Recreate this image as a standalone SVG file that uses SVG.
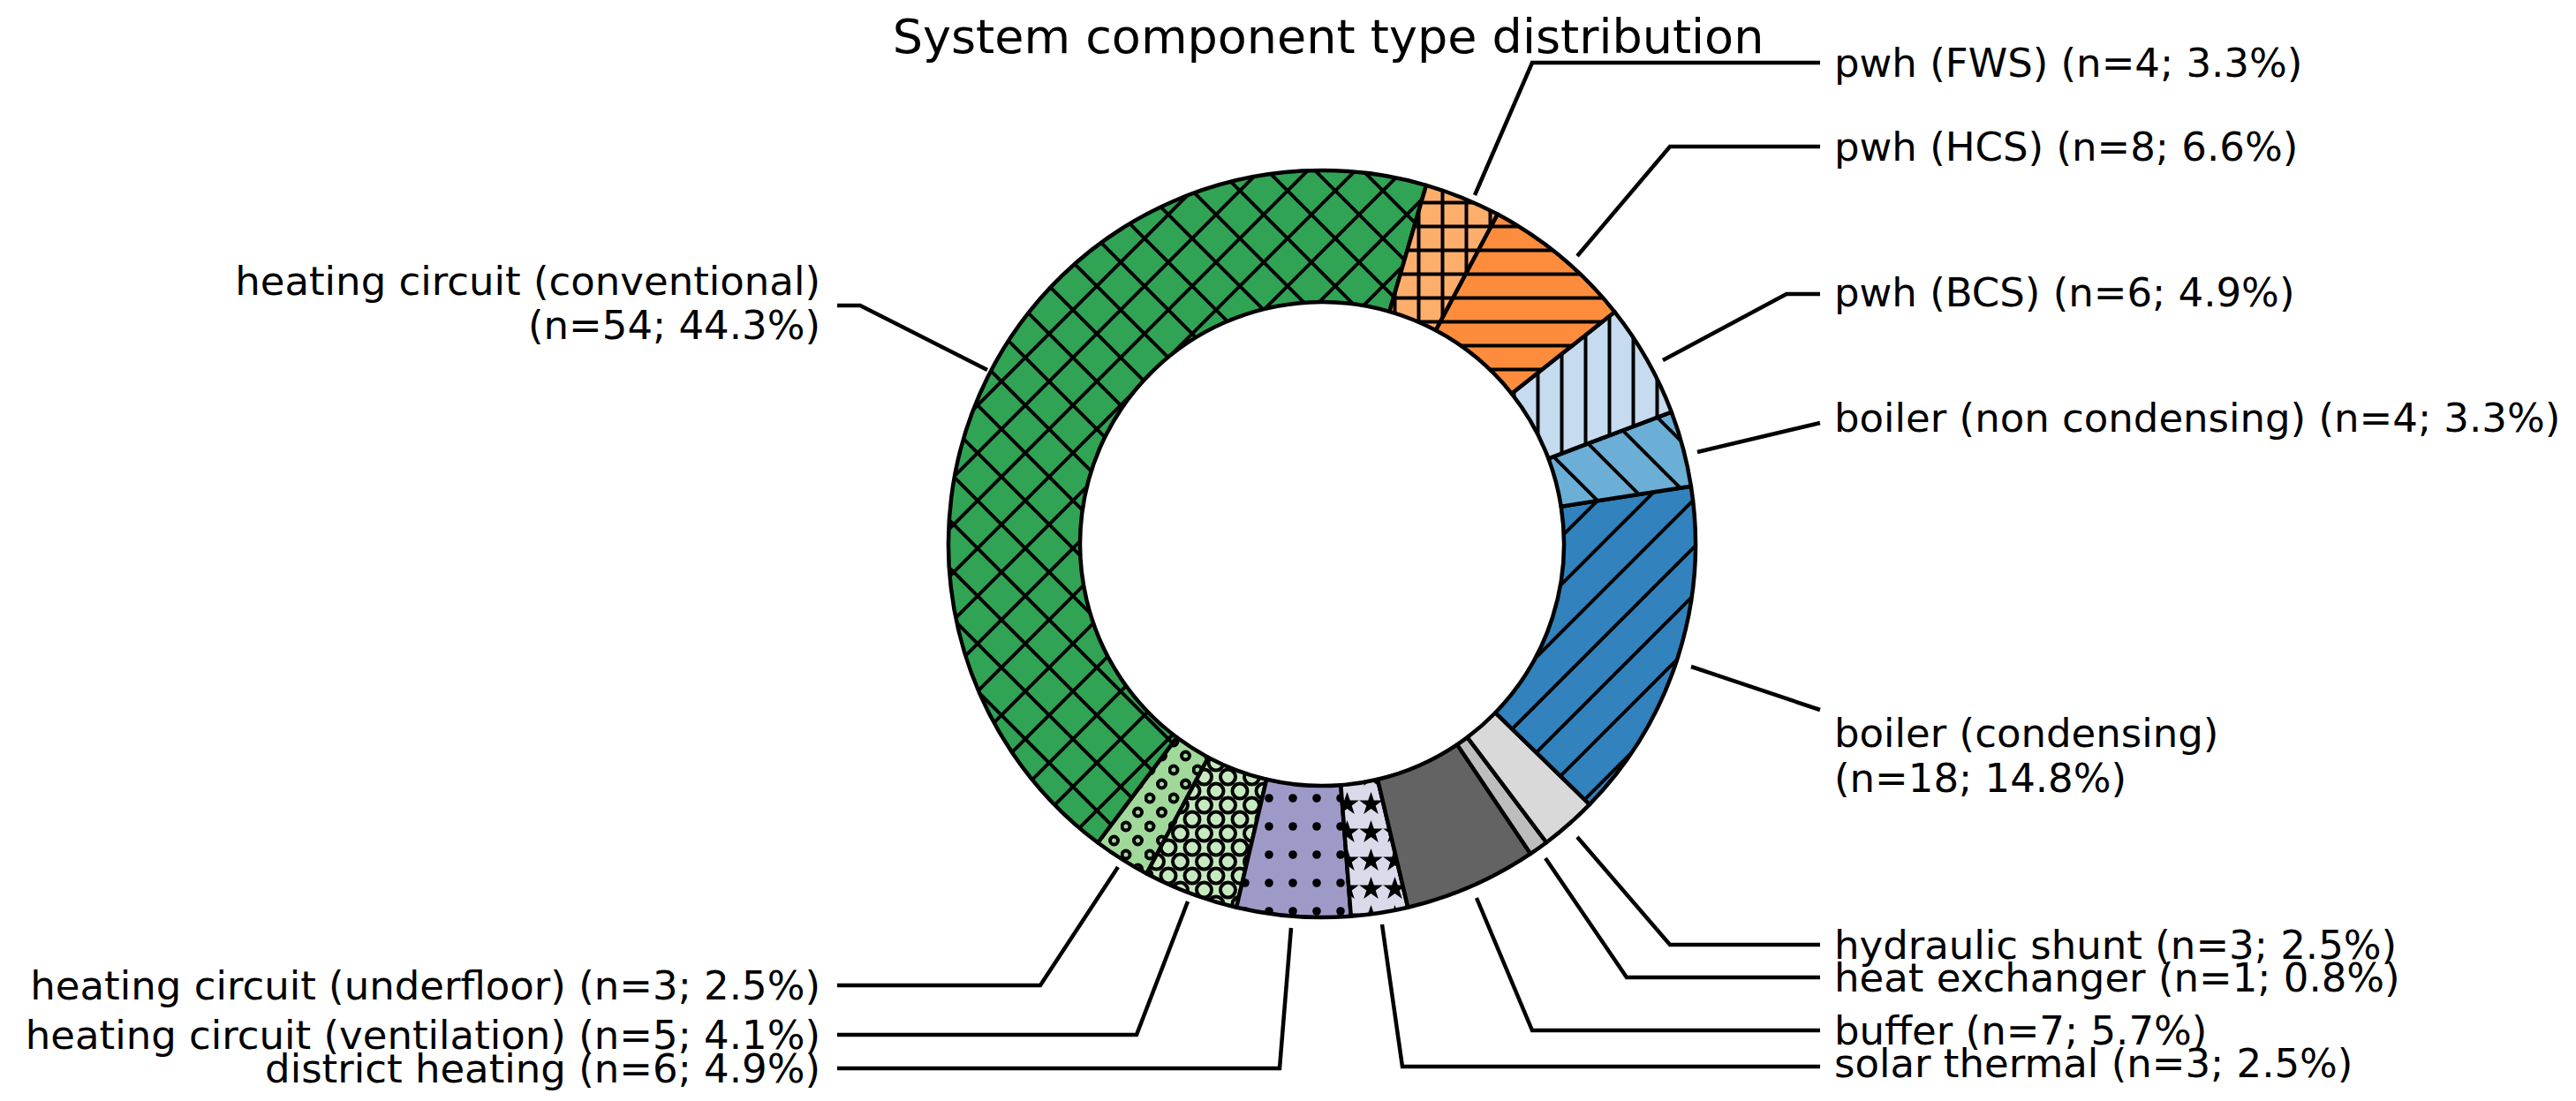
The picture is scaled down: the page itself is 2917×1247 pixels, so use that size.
<svg xmlns="http://www.w3.org/2000/svg" width="2917" height="1247" viewBox="0 0 2917 1247">
<style>
text{font-family:"DejaVu Sans","Liberation Sans",sans-serif;font-size:45px;fill:#000;dominant-baseline:central}
.t{font-size:54px;text-anchor:middle}
.r{text-anchor:end}
.w{stroke:#000;stroke-width:4.5;stroke-linejoin:round}
.c path{stroke:#000;stroke-width:4.5;fill:none}
.h{stroke:#000;stroke-width:4}
</style>
<defs>
<pattern id="px" patternUnits="userSpaceOnUse" width="54" height="54"><rect width="54" height="54" fill="#31a354"/><path class="h" d="M-5,-5L59,59M-5,59L59,-5"/></pattern>
<pattern id="po" patternUnits="userSpaceOnUse" width="27" height="32"><rect width="27" height="32" fill="#a1d99b"/><g fill="none" class="h"><circle cx="6" cy="8" r="4.5"/><circle cx="19.5" cy="24" r="4.5"/></g></pattern>
<pattern id="pO" patternUnits="userSpaceOnUse" width="27" height="32"><rect width="27" height="32" fill="#c7e9c0"/><g fill="none" class="h"><circle cx="13.5" cy="16" r="8.5"/><circle cx="0" cy="0" r="8.5"/><circle cx="27" cy="0" r="8.5"/><circle cx="0" cy="32" r="8.5"/><circle cx="27" cy="32" r="8.5"/></g></pattern>
<pattern id="pd" patternUnits="userSpaceOnUse" width="27" height="32"><rect width="27" height="32" fill="#9e9ac8"/><circle cx="6" cy="8" r="4.8"/></pattern>
<pattern id="ps" patternUnits="userSpaceOnUse" width="27" height="32"><rect width="27" height="32" fill="#dadaeb"/><path d="M13.5,1l3.3,9.5h10l-8.1,5.9l3.1,9.6l-8.3,-6l-8.3,6l3.1,-9.6l-8.1,-5.9h10z" fill="#000"/></pattern>
<pattern id="pf" patternUnits="userSpaceOnUse" width="54" height="54"><rect width="54" height="54" fill="#3182bd"/><path class="h" d="M-5,59L59,-5M-5,5L5,-5M49,59L59,49"/></pattern>
<pattern id="pb" patternUnits="userSpaceOnUse" width="54" height="54"><rect width="54" height="54" fill="#6baed6"/><path class="h" d="M-5,-5L59,59M-5,49L5,59M49,-5L59,5"/></pattern>
<pattern id="pv" patternUnits="userSpaceOnUse" width="27" height="27"><rect width="27" height="27" fill="#c6dbef"/><path class="h" d="M13.5,-1V28"/></pattern>
<pattern id="ph" patternUnits="userSpaceOnUse" width="27" height="27"><rect width="27" height="27" fill="#fd8d3c"/><path class="h" d="M-1,13.5H28"/></pattern>
<pattern id="pp" patternUnits="userSpaceOnUse" width="27" height="27"><rect width="27" height="27" fill="#fdae6b"/><path class="h" d="M-1,13.5H28M13.5,-1V28"/></pattern>
</defs>
<text class="t" x="1504" y="41">System component type distribution</text>
<g id="w-conv"><path class="w" fill="url(#px)" d="M1615.0,209.8A423,423 0 0 0 1243.3,954.5L1332.7,835.3A274,274 0 0 1 1573.4,352.9Z"/></g>
<g id="w-underfloor"><path class="w" fill="url(#po)" d="M1243.3,954.5A423,423 0 0 0 1298.4,989.5L1368.3,857.9A274,274 0 0 1 1332.7,835.3Z"/></g>
<g id="w-vent"><path class="w" fill="url(#pO)" d="M1298.4,989.5A423,423 0 0 0 1400.1,1027.7L1434.2,882.7A274,274 0 0 1 1368.3,857.9Z"/></g>
<g id="w-district"><path class="w" fill="url(#pd)" d="M1400.1,1027.7A423,423 0 0 0 1529.8,1037.7L1518.3,889.2A274,274 0 0 1 1434.2,882.7Z"/></g>
<g id="w-solar"><path class="w" fill="url(#ps)" d="M1529.8,1037.7A423,423 0 0 0 1594.3,1027.7L1560.0,882.7A274,274 0 0 1 1518.3,889.2Z"/></g>
<g id="w-buffer"><path class="w" fill="#636363" d="M1594.3,1027.7A423,423 0 0 0 1733.2,966.9L1650.0,843.3A274,274 0 0 1 1560.0,882.7Z"/></g>
<g id="w-hx"><path class="w" fill="#bdbdbd" d="M1733.2,966.9A423,423 0 0 0 1751.1,954.2L1661.6,835.1A274,274 0 0 1 1650.0,843.3Z"/></g>
<g id="w-shunt"><path class="w" fill="#d9d9d9" d="M1751.1,954.2A423,423 0 0 0 1800.0,911.1L1693.3,807.2A274,274 0 0 1 1661.6,835.1Z"/></g>
<g id="w-cond"><path class="w" fill="url(#pf)" d="M1800.0,911.1A423,423 0 0 0 1914.9,550.8L1767.7,573.7A274,274 0 0 1 1693.3,807.2Z"/></g>
<g id="w-noncond"><path class="w" fill="url(#pb)" d="M1914.9,550.8A423,423 0 0 0 1892.8,466.7L1753.4,519.3A274,274 0 0 1 1767.7,573.7Z"/></g>
<g id="w-bcs"><path class="w" fill="url(#pv)" d="M1892.8,466.7A423,423 0 0 0 1828.5,353.3L1711.8,445.8A274,274 0 0 1 1753.4,519.3Z"/></g>
<g id="w-hcs"><path class="w" fill="url(#ph)" d="M1828.5,353.3A423,423 0 0 0 1695.7,242.6L1625.7,374.1A274,274 0 0 1 1711.8,445.8Z"/></g>
<g id="w-fws"><path class="w" fill="url(#pp)" d="M1695.7,242.6A423,423 0 0 0 1615.0,209.8L1573.4,352.9A274,274 0 0 1 1625.7,374.1Z"/></g>
<g id="connectors" class="c">
<path d="M1670,221L1735,71H2061"/>
<path d="M1786,290L1891,166H2061"/>
<path d="M1883,408L2023,333H2061"/>
<path d="M1922,512L2061,479"/>
<path d="M1915,755L2061,804"/>
<path d="M1786,948L1891,1070H2061"/>
<path d="M1750,972L1842,1107H2061"/>
<path d="M1672,1017L1735,1167H2061"/>
<path d="M1565,1047L1588,1208H2061"/>
<path d="M1462,1051L1449,1210H948"/>
<path d="M1345,1021L1287,1172H948"/>
<path d="M1266,982L1178,1116H948"/>
<path d="M1118,419L974,346H948"/>
</g>
<g id="labels">
<text x="2077" y="71">pwh (FWS) (n=4; 3.3%)</text>
<text x="2077" y="166">pwh (HCS) (n=8; 6.6%)</text>
<text x="2077" y="331">pwh (BCS) (n=6; 4.9%)</text>
<text x="2077" y="473">boiler (non condensing) (n=4; 3.3%)</text>
<text x="2077" y="830">boiler (condensing)</text>
<text x="2077" y="881">(n=18; 14.8%)</text>
<text x="2077" y="1070">hydraulic shunt (n=3; 2.5%)</text>
<text x="2077" y="1107">heat exchanger (n=1; 0.8%)</text>
<text x="2077" y="1167">buffer (n=7; 5.7%)</text>
<text x="2077" y="1204">solar thermal (n=3; 2.5%)</text>
<text class="r" x="929" y="318">heating circuit (conventional)</text>
<text class="r" x="929" y="368">(n=54; 44.3%)</text>
<text class="r" x="929" y="1116">heating circuit (underfloor) (n=3; 2.5%)</text>
<text class="r" x="929" y="1172">heating circuit (ventilation) (n=5; 4.1%)</text>
<text class="r" x="929" y="1210">district heating (n=6; 4.9%)</text>
</g>
</svg>
